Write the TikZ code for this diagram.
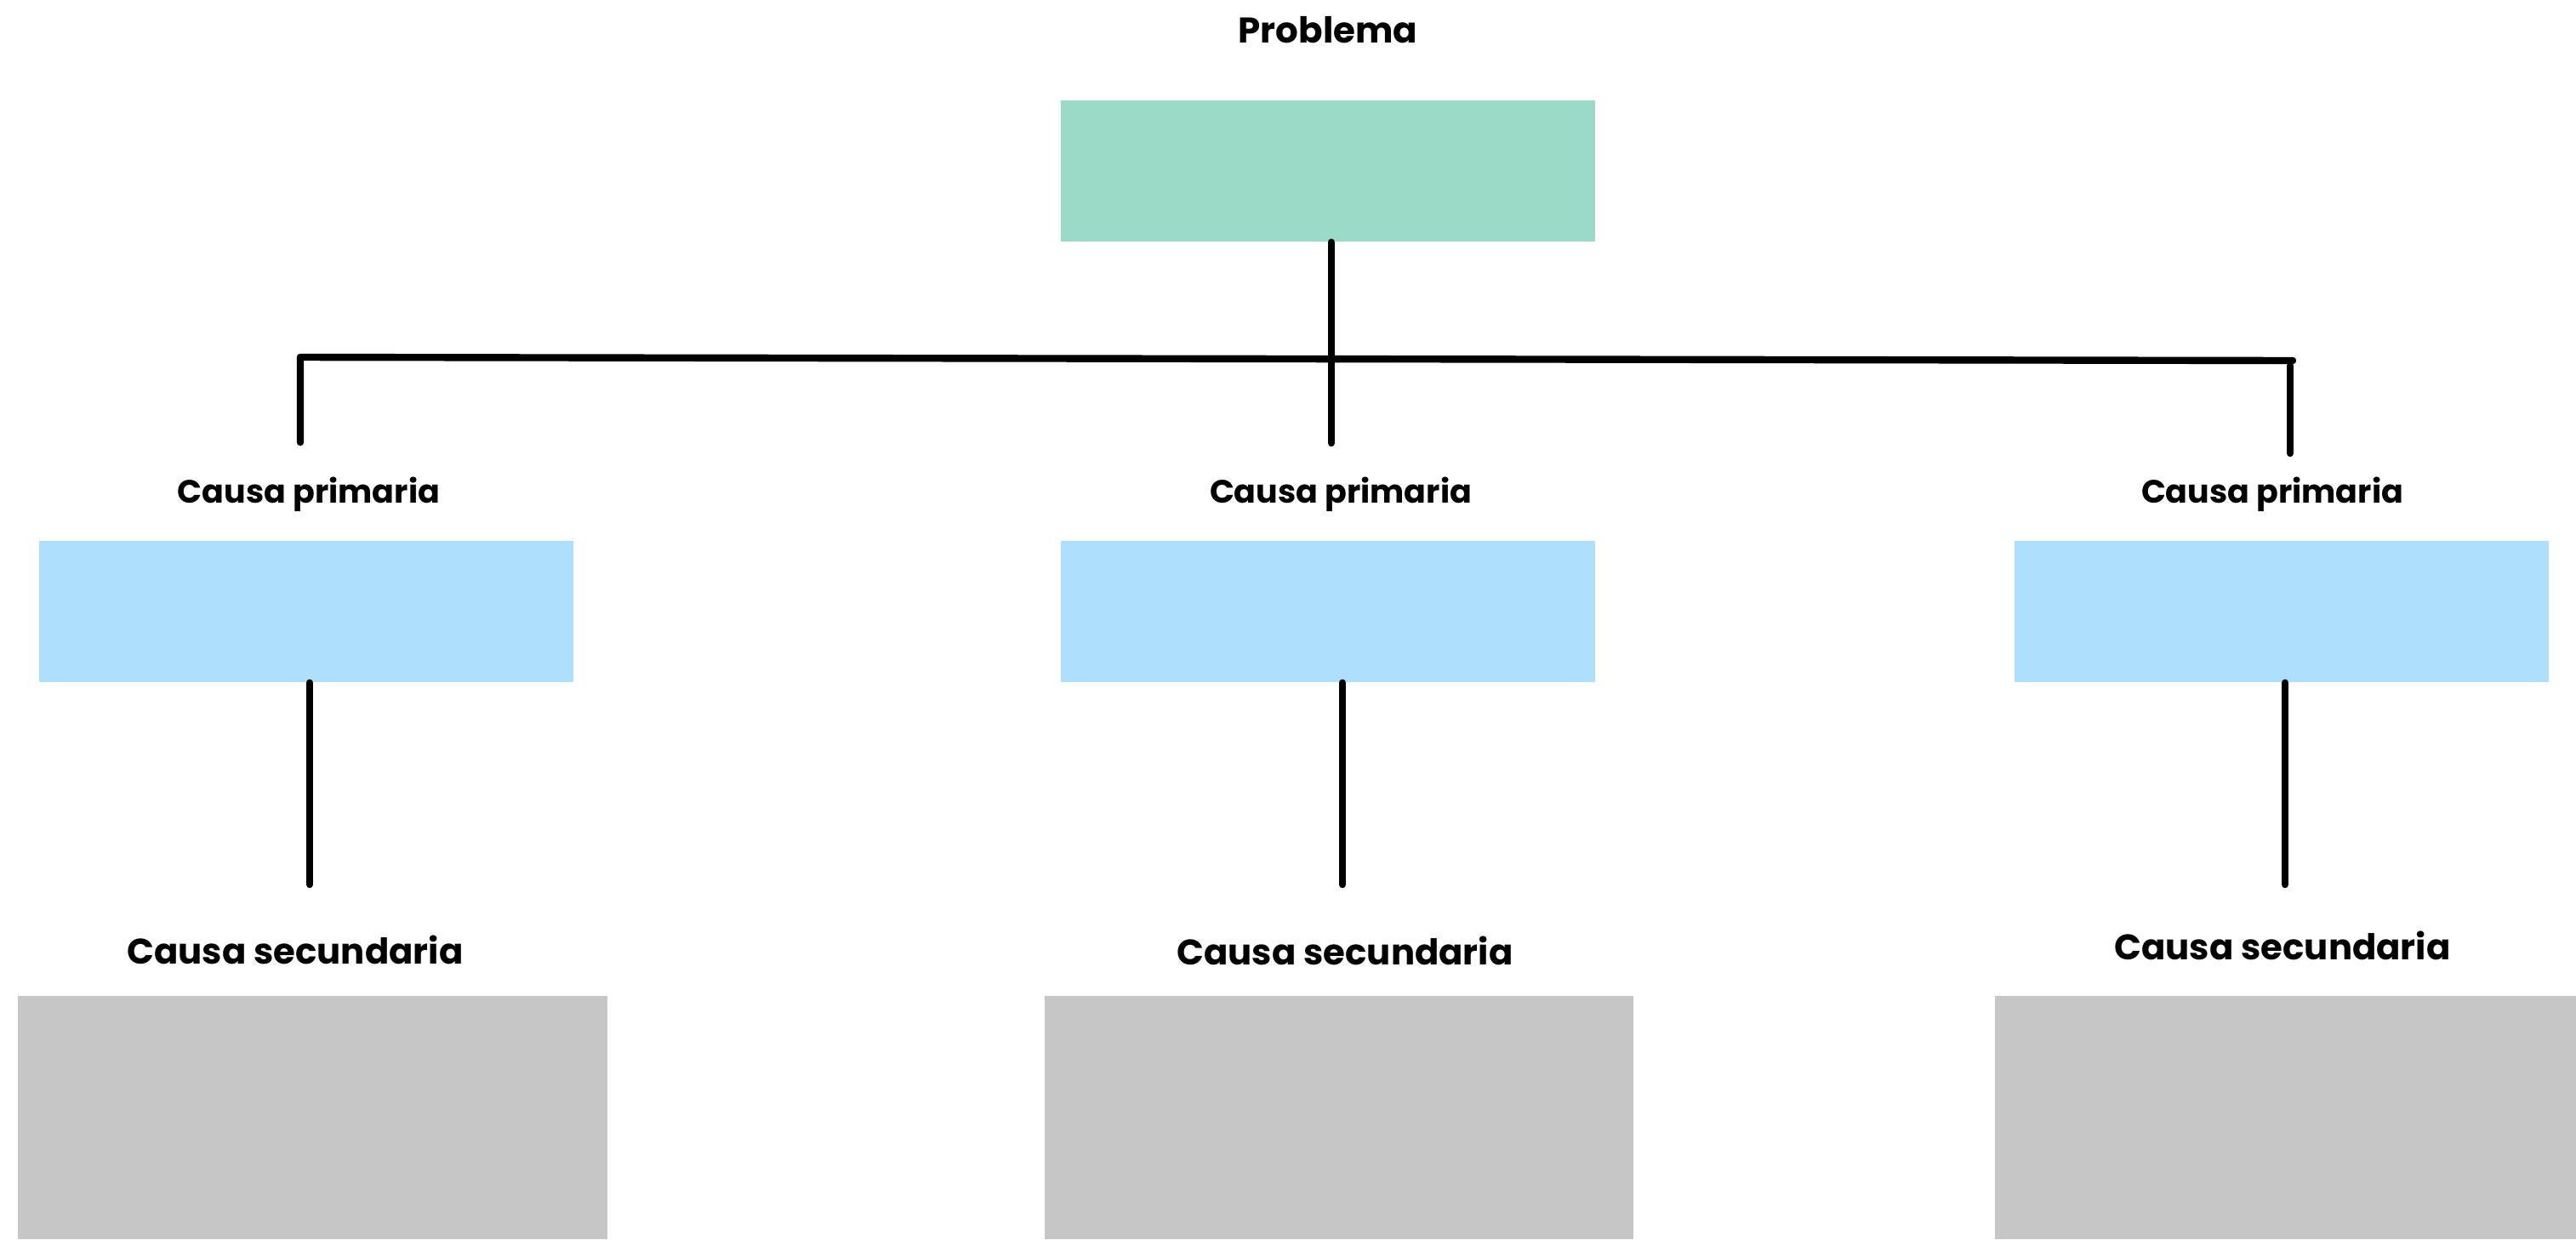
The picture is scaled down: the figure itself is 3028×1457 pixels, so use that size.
\documentclass[tikz,border=0pt]{standalone}
\usepackage{fontspec}
\setmainfont{Poppins}
\definecolor{probfill}{HTML}{9BD9C8}
\definecolor{primfill}{HTML}{AEE0FD}
\definecolor{secfill}{HTML}{C6C6C6}
\tikzset{
  probbox/.style={rectangle, fill=probfill, inner sep=0pt, minimum width=157pt, minimum height=41.5pt},
  primbox/.style={rectangle, fill=primfill, inner sep=0pt, minimum width=157pt, minimum height=41.5pt},
  secbox/.style={rectangle, fill=secfill, inner sep=0pt, minimum height=71.5pt},
  title/.style={anchor=base, inner sep=0pt, font=\fontsize{10.5}{12}\selectfont\bfseries},
  primlabel/.style={anchor=base, inner sep=0pt, font=\fontsize{9.5}{11}\selectfont\bfseries},
  seclabel/.style={anchor=base, inner sep=0pt, font=\fontsize{10.45}{12}\selectfont\bfseries},
  link/.style={line width=2.1pt, line cap=round, line join=round, black}
}
\begin{document}
\begin{tikzpicture}[x=0.25pt, y=-0.25pt]
  \useasboundingbox (0,0) rectangle (3028,1457);

  % problem
  \node[title] (ptitle) at (1561,50) {Problema};
  \node[probbox] (prob) at (1561,201) {};

  % primary causes
  \node[primlabel] (l1) at (363,591) {Causa primaria};
  \node[primlabel] (l2) at (1576,591) {Causa primaria};
  \node[primlabel] (l3) at (2671,591) {Causa primaria};
  \node[primbox] (p1) at (360,719) {};
  \node[primbox] (p2) at (1561,719) {};
  \node[primbox] (p3) at (2681.5,719) {};

  % secondary causes
  \node[seclabel] (s1) at (347,1133) {Causa secundaria};
  \node[seclabel] (s2) at (1581,1134) {Causa secundaria};
  \node[seclabel] (s3) at (2683,1128) {Causa secundaria};
  \node[secbox, minimum width=173.25pt] (c1) at (367.5,1314) {};
  \node[secbox, minimum width=173pt] (c2) at (1574,1314) {};
  \node[secbox, minimum width=170.75pt] (c3) at (2686.5,1314) {};

  % branch points
  \coordinate (bl) at (353,420);
  \coordinate (br) at (2695,424);
  \coordinate (mid) at (1565,521);
  \coordinate (lend) at (353,520);
  \coordinate (rtop) at (2692,430);
  \coordinate (rend) at (2692,533);
  \coordinate (d1) at (364,1040);
  \coordinate (d2) at (1578,1040);
  \coordinate (d3) at (2686,1040);

  % connectors
  \draw[link] (prob.south -| mid) -- (mid);
  \draw[link] (lend) -- (bl) -- (br);
  \draw[link] (rtop) -- (rend);
  \draw[link] (p1.south -| d1) -- (d1);
  \draw[link] (p2.south -| d2) -- (d2);
  \draw[link] (p3.south -| d3) -- (d3);
\end{tikzpicture}
\end{document}
